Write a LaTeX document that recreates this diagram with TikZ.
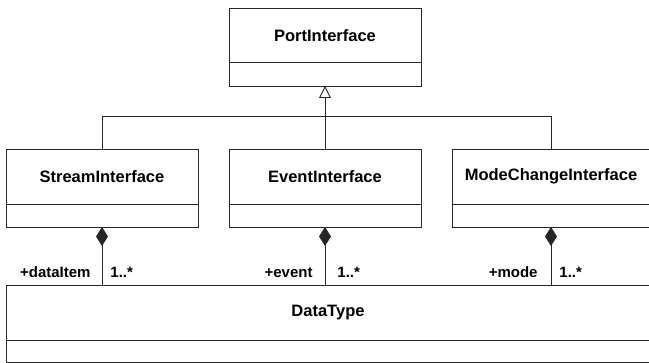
\documentclass[tikz,border=0pt]{standalone}
\usepackage{fontspec}
\setmainfont{Liberation Sans}
\usetikzlibrary{arrows.meta, positioning}

\begin{document}
\begin{tikzpicture}[
    x=1pt, y=-1pt,
    head/.style={rectangle, draw=black!85, line width=0.9pt, outer sep=0pt,
                 minimum width=192pt, minimum height=55pt,
                 font=\fontsize{16.5}{20}\selectfont\bfseries},
    body/.style={rectangle, draw=black!85, line width=0.9pt, outer sep=0pt,
                 minimum width=192pt, minimum height=23pt},
    link/.style={draw=black!85, line width=0.9pt},
    gen/.style={link, -{Triangle[open, length=12pt, width=12pt]}},
    comp/.style={link, {Diamond[length=19pt, width=12pt]}-},
    role/.style={font=\fontsize{15}{18}\selectfont\bfseries, inner sep=0pt}
]
\useasboundingbox (0,0) rectangle (649,363);

% classes
\node[head, minimum height=54.7pt] (portT) at (325,35.35) {PortInterface};
\node[body, minimum height=23.3pt, below=0pt of portT] (portB) {};
\node[head] (streamT) at (102,176.5) {StreamInterface};
\node[body, below=0pt of streamT] (streamB) {};
\node[head] (eventT) at (325,176.5) {EventInterface};
\node[body, below=0pt of eventT] (eventB) {};
\node[head, minimum width=198pt] (modeT) at (551,176.5) {ModeChangeInterface};
\node[body, minimum width=198pt, below=0pt of modeT] (modeB) {};
\node[head, minimum width=644pt] (dataT) at (328,312.5) {DataType};
\node[body, minimum width=644pt, minimum height=22pt, below=0pt of dataT] (dataB) {};

% generalization
\coordinate (hub) at (325,116.5);
\draw[gen] (hub) -- (portB.south);
\draw[link] (streamT.north) -- (streamT.north |- hub) -- (modeT.north |- hub) -- (modeT.north);
\draw[link] (eventT.north) -- (hub);

% composition
\draw[comp] (streamB.south) -- (streamB.south |- dataT.north)
    node[role, pos=1, anchor=base east, xshift=-11pt, yshift=7pt] {+dataItem}
    node[role, pos=1, anchor=base west, xshift=8pt, yshift=7pt] {1..*};
\draw[comp] (eventB.south) -- (eventB.south |- dataT.north)
    node[role, pos=1, anchor=base east, xshift=-12pt, yshift=7pt] {+event}
    node[role, pos=1, anchor=base west, xshift=12pt, yshift=7pt] {1..*};
\draw[comp] (modeB.south) -- (modeB.south |- dataT.north)
    node[role, pos=1, anchor=base east, xshift=-13pt, yshift=7pt] {+mode}
    node[role, pos=1, anchor=base west, xshift=8pt, yshift=7pt] {1..*};
\end{tikzpicture}
\end{document}
